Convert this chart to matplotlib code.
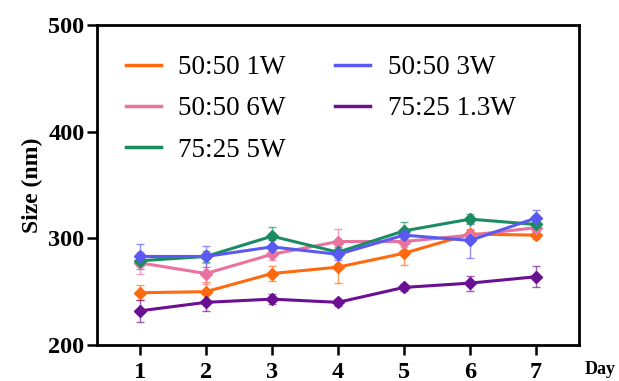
import matplotlib
matplotlib.use("Agg")
import matplotlib.pyplot as plt
from matplotlib.lines import Line2D

days = [1, 2, 3, 4, 5, 6, 7]
labels = ["50:50 1W", "50:50 6W", "75:25 5W", "50:50 3W", "75:25 1.3W"]
colors = ["#FF6A0F", "#E8739E", "#1B8C62", "#5A5AF2", "#6B0F93"]

s_1w = [249, 250, 267, 273, 286, 304, 303]
e_1w = [7, 9, 7, 15, 11, 5, 4]
s_6w = [277, 267, 285, 297, 297, 303, 310]
e_6w = [10, 10, 5, 12, 5, 5, 5]
s_5w = [279, 283, 302, 287, 307, 318, 313]
e_5w = [5, 5, 9, 5, 8, 5, 8]
s_3w = [283, 283, 292, 285, 303, 298, 319]
e_3w = [12, 10, 6, 5, 5, 16, 8]
s_13w = [232, 240, 243, 240, 254, 258, 264]
e_13w = [10, 8, 5, 3, 3, 7, 10]

series = [(s_1w, e_1w), (s_6w, e_6w), (s_5w, e_5w), (s_3w, e_3w), (s_13w, e_13w)]

plt.rcParams['font.family'] = ['Liberation Serif', 'DejaVu Serif']
fig = plt.figure(figsize=(6.19, 3.81), dpi=100)
ax = fig.add_axes([97/619, 1-345/381, (579-97)/619, 320/381])

for (vals, errs), lab, col in zip(series, labels, colors):
    ax.errorbar(days, vals, yerr=errs, color=col, lw=2.2, marker='D', ms=6.5,
                capsize=3, elinewidth=1, capthick=1, label=lab,
                ecolor=col + "AA")

ax.set_xlim(0.35, 7.65)
ax.set_ylim(200, 500)
ax.set_yticks([200, 300, 400, 500])
ax.set_xticks(days)
for s in ax.spines.values():
    s.set_linewidth(2)
ax.tick_params(width=1.8, length=7, labelsize=17.5)
ax.tick_params(axis='x', pad=5)
ax.tick_params(axis='y', pad=2)
for t in ax.get_xticklabels() + ax.get_yticklabels():
    t.set_fontweight('bold')
ax.set_ylabel("Size (nm)", fontsize=17, fontweight='bold', labelpad=4)
fig.text(600/619, 1-369/381, "Day", fontsize=13, fontweight='bold', ha='center', va='center')

handles = [Line2D([0], [0], color=c, lw=2.5) for c in colors]
ax.legend(handles, labels, ncol=2, frameon=False, fontsize=19.5,
          loc='upper left', bbox_to_anchor=(0.02, 0.965),
          handlelength=1.3, handletextpad=0.65, columnspacing=1.8,
          labelspacing=0.6, borderaxespad=0.3)

fig.savefig("out.png", dpi=100)
